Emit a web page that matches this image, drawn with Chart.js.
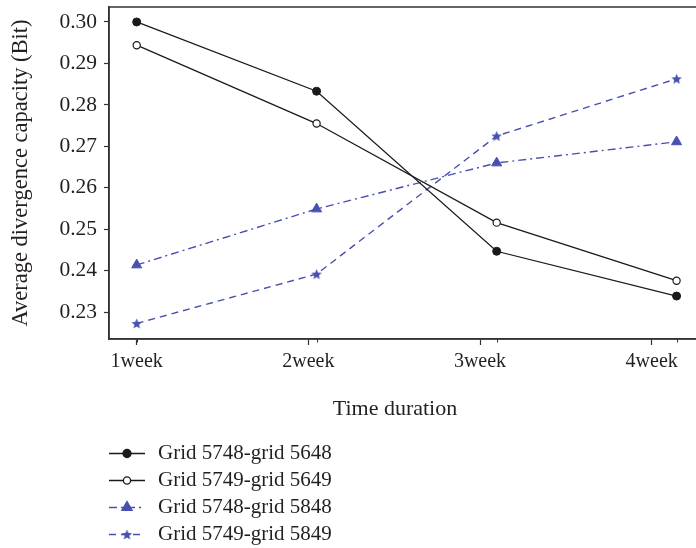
<!DOCTYPE html>
<html>
<head>
<meta charset="utf-8">
<script src="https://cdn.jsdelivr.net/npm/chart.js@4.4.1/dist/chart.umd.min.js"></script>
<style>
  html, body { margin: 0; padding: 0; background: #fff; overflow: hidden; }
  #wrap { width: 696px; height: 548px; overflow: hidden; position: relative; }
  canvas { display: block; }
</style>
</head>
<body>
<div id="wrap"><canvas id="c" width="720" height="548" style="width:720px;height:548px"></canvas></div>
<script>
// ---- data ----
const weekLabels = ['1week', '2week', '3week', '4week'];
const weekTicks = [1, 2, 3, 4];
// plotted positions of the measurements (slightly right of the labelled ticks, as in the original)
const xs = [1, 2.048, 3.097, 4.145];
const seriesNames = ['Grid 5748-grid 5648', 'Grid 5749-grid 5649', 'Grid 5748-grid 5848', 'Grid 5749-grid 5849'];
const grid5748_5648 = [0.3000, 0.2833, 0.2447, 0.2339];
const grid5749_5649 = [0.2944, 0.2755, 0.2516, 0.2376];
const grid5748_5848 = [0.2414, 0.2549, 0.2660, 0.2711];
const grid5749_5849 = [0.2273, 0.2392, 0.2725, 0.2863];
const yTicks = [0.23, 0.24, 0.25, 0.26, 0.27, 0.28, 0.29, 0.30];
const xTitle = 'Time duration';
const yTitle = 'Average divergence capacity (Bit)';

const FONT = '"Liberation Serif", "DejaVu Serif", serif';
const TXT = '#231f20';
const BLUE = '#4850b0';
const BLACK = '#1a1a1a';

// filled five-point star marker
function makeStar(r, color) {
  const s = Math.ceil(r * 2 + 2);
  const cv = document.createElement('canvas');
  cv.width = s; cv.height = s;
  const g = cv.getContext('2d');
  g.fillStyle = color;
  g.beginPath();
  for (let i = 0; i < 10; i++) {
    const rad = i % 2 === 0 ? r : r * 0.45;
    const a = -Math.PI / 2 + i * Math.PI / 5;
    const px = s / 2 + rad * Math.cos(a), py = s / 2 + rad * Math.sin(a) + 0.5;
    if (i === 0) g.moveTo(px, py); else g.lineTo(px, py);
  }
  g.closePath();
  g.fill();
  return cv;
}
const starImg = makeStar(5.5, BLUE);

const pts = (arr) => arr.map((v, i) => ({ x: xs[i], y: v }));

const datasets = [
  { label: seriesNames[0], data: pts(grid5748_5648), borderColor: BLACK, backgroundColor: BLACK,
    borderWidth: 1.3, pointStyle: 'circle', pointRadius: 4, pointBackgroundColor: BLACK, pointBorderColor: BLACK, pointBorderWidth: 1 },
  { label: seriesNames[1], data: pts(grid5749_5649), borderColor: BLACK, backgroundColor: '#fff',
    borderWidth: 1.3, pointStyle: 'circle', pointRadius: 3.6, pointBackgroundColor: '#fff', pointBorderColor: BLACK, pointBorderWidth: 1.2 },
  { label: seriesNames[2], data: pts(grid5748_5848), borderColor: BLUE, backgroundColor: BLUE,
    borderWidth: 1.4, borderDash: [8, 4, 2, 4], pointStyle: 'triangle', pointRadius: 5.8, pointBackgroundColor: BLUE, pointBorderColor: BLUE, pointBorderWidth: 1 },
  { label: seriesNames[3], data: pts(grid5749_5849), borderColor: BLUE, backgroundColor: BLUE,
    borderWidth: 1.4, borderDash: [7, 5], pointStyle: starImg, pointRadius: 5, pointBackgroundColor: BLUE, pointBorderColor: BLUE }
];
datasets.forEach(d => { d.tension = 0; d.fill = false; d.pointHoverRadius = d.pointRadius; });

const framePlugin = {
  id: 'frame',
  afterDraw(chart) {
    const { ctx, chartArea: a, scales } = chart;
    ctx.save();
    ctx.strokeStyle = '#333';
    ctx.lineWidth = 1.5;
    ctx.strokeRect(a.left, a.top, a.right - a.left, a.bottom - a.top);
    // minor ticks at measurement positions
    ctx.lineWidth = 1;
    ctx.strokeStyle = '#333';
    xs.forEach(v => {
      const px = Math.round(scales.x.getPixelForValue(v)) + 0.5;
      ctx.beginPath(); ctx.moveTo(px, a.bottom); ctx.lineTo(px, a.bottom + 3.5); ctx.stroke();
    });
    // x title
    ctx.fillStyle = TXT;
    ctx.font = '22px ' + FONT;
    ctx.textAlign = 'center';
    ctx.textBaseline = 'middle';
    ctx.fillText(xTitle, 395, 409);
    // legend
    chart.data.datasets.forEach((d, i) => {
      const y = 453.5 + i * 27;
      ctx.save();
      ctx.strokeStyle = d.borderColor;
      ctx.lineWidth = d.borderWidth;
      ctx.setLineDash(d.borderDash || []);
      ctx.beginPath(); ctx.moveTo(109, y); ctx.lineTo(145, y); ctx.stroke();
      ctx.setLineDash([]);
      ctx.fillStyle = d.pointBackgroundColor;
      ctx.strokeStyle = d.pointBorderColor;
      Chart.helpers.drawPoint(ctx, { pointStyle: d.pointStyle, radius: d.pointRadius, rotation: 0, borderWidth: d.pointBorderWidth || 1 }, 127, y);
      ctx.restore();
      ctx.fillStyle = TXT;
      ctx.font = '21px ' + FONT;
      ctx.textAlign = 'left';
      ctx.textBaseline = 'middle';
      ctx.fillText(d.label, 158, y);
    });
    ctx.restore();
  }
};

new Chart(document.getElementById('c'), {
  type: 'line',
  data: { datasets },
  options: {
    responsive: false,
    animation: false,
    events: [],
    layout: { autoPadding: false, padding: { top: 7, left: 0, right: 0, bottom: 0 } },
    plugins: { legend: { display: false }, tooltip: { enabled: false } },
    scales: {
      x: {
        type: 'linear',
        min: 0.8387, max: 4.398,
        afterBuildTicks: (s) => { s.ticks = weekTicks.map(v => ({ value: v })); },
        afterFit: (s) => { s.height = 209; s.paddingLeft = 0; s.paddingRight = 0; },
        ticks: {
          callback: (v) => weekLabels[weekTicks.indexOf(v)] || '',
          font: { family: FONT, size: 20 }, color: TXT, padding: 5, maxRotation: 0, autoSkip: false
        },
        grid: { drawOnChartArea: false, tickLength: 6, tickColor: '#333', tickWidth: 1.2 },
        border: { display: true, color: '#333', width: 1.5 }
      },
      y: {
        type: 'linear',
        min: 0.22354, max: 0.30361,
        afterBuildTicks: (s) => { s.ticks = yTicks.map(v => ({ value: v })); },
        afterFit: (s) => { s.width = 109; s.paddingTop = 0; s.paddingBottom = 0; },
        ticks: {
          callback: (v) => v.toFixed(2),
          font: { family: FONT, size: 21.5 }, color: TXT, padding: 7
        },
        grid: { drawOnChartArea: false, tickLength: 5, tickColor: '#333', tickWidth: 1.2 },
        border: { display: true, color: '#333', width: 1.5 },
        title: { display: true, text: yTitle, font: { family: FONT, size: 22.5 }, color: TXT, padding: { top: 8, bottom: 0 } }
      }
    }
  },
  plugins: [framePlugin]
});
</script>
</body>
</html>
